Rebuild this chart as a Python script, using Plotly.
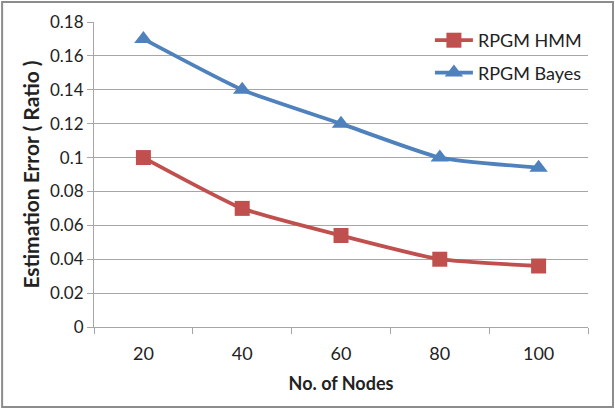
import plotly.graph_objects as go

nodes = ["20", "40", "60", "80", "100"]
hmm = [0.10, 0.07, 0.054, 0.04, 0.036]
bayes = [0.17, 0.14, 0.12, 0.10, 0.094]
y_ticks = [0, 0.02, 0.04, 0.06, 0.08, 0.1, 0.12, 0.14, 0.16, 0.18]
y_tick_text = ["0", "0.02", "0.04", "0.06", "0.08", "0.1", "0.12", "0.14", "0.16", "0.18"]

FONT = "Lato"
fig = go.Figure()
fig.add_trace(go.Scatter(
    x=nodes, y=hmm, name="RPGM HMM", mode="lines+markers",
    line=dict(color="#c0504d", width=3.8, shape="spline", smoothing=0.5),
    marker=dict(symbol="square", size=15, color="#c0504d"),
    legendgroup="a",
))
fig.add_trace(go.Scatter(
    x=nodes, y=bayes, name="RPGM Bayes", mode="lines+markers",
    line=dict(color="#4f81bd", width=3.8, shape="spline", smoothing=0.5),
    marker=dict(symbol="triangle-up", size=16, color="#4f81bd"),
    legendgroup="b",
))

fig.update_layout(
    width=615, height=410,
    margin=dict(l=94, r=27, t=22, b=83),
    paper_bgcolor="white", plot_bgcolor="white",
    font=dict(family=FONT, size=17, color="#222"),
    legend=dict(x=0.68, y=1.0, xanchor="left", yanchor="top",
                bgcolor="rgba(0,0,0,0)", font=dict(size=18),
                traceorder="grouped", tracegroupgap=6, itemwidth=38),
    xaxis=dict(
        type="category", range=[-0.5, 4.5], showgrid=False, showline=True,
        linecolor="#a6a6a6", linewidth=1, ticks="outside", tickson="boundaries",
        ticklen=6, tickcolor="#a6a6a6", tickfont=dict(size=18),
        ticklabelstandoff=10,
        title=dict(text="<b>No. of Nodes</b>", font=dict(size=18), standoff=14),
    ),
    yaxis=dict(
        range=[0, 0.18], tickvals=y_ticks, ticktext=y_tick_text,
        showgrid=True, gridcolor="#a6a6a6", gridwidth=1,
        showline=True, linecolor="#a6a6a6", ticks="outside", ticklen=6,
        tickcolor="#a6a6a6", tickfont=dict(size=17), zeroline=False,
        title=dict(text="<b>Estimation Error ( Ratio )</b>", font=dict(size=21), standoff=4),
    ),
    showlegend=True,
)
fig.add_shape(type="rect", xref="paper", yref="paper",
              x0=-0.186, x1=1.0506, y0=-0.262, y1=1.0656,
              line=dict(color="#8c8c8c", width=2), layer="below")

fig.write_html("out.html")
